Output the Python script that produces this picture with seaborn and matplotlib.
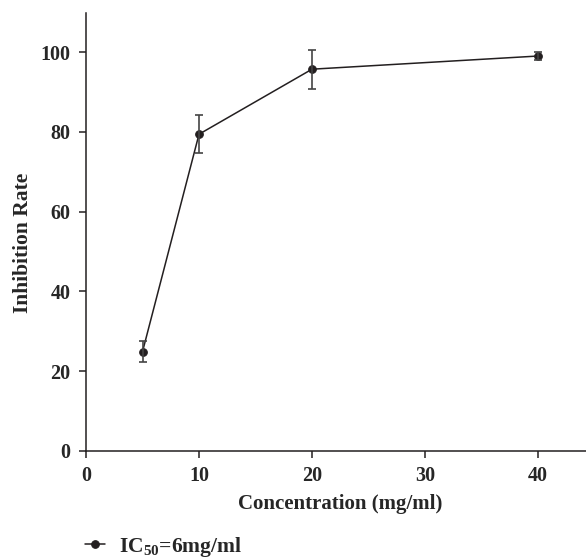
# inhibition rate vs concentration
import matplotlib
matplotlib.use("Agg")
import matplotlib.pyplot as plt
import seaborn as sns
import pandas as pd

conc = [5, 10, 20, 40]
rate = [24.9, 79.4, 95.7, 99.0]
err = [2.6, 4.7, 4.9, 0.9]

sns.set_style("ticks")
plt.rcParams['font.family'] = ['Liberation Serif', 'DejaVu Serif']
plt.rcParams['font.weight'] = 'bold'
plt.rcParams['mathtext.fontset'] = 'custom'
plt.rcParams['mathtext.rm'] = 'Liberation Serif:bold'
plt.rcParams['mathtext.bf'] = 'Liberation Serif:bold'

df = pd.DataFrame({'Concentration': conc, 'Rate': rate})

fig = plt.figure(figsize=(5.86, 5.58), dpi=100)
ax = fig.add_axes([0.1468, 0.1918, 0.8532, 0.785])

col = '#231f20'
sns.lineplot(data=df, x='Concentration', y='Rate', marker='o', color=col,
             markersize=5.5, linewidth=1.1, markeredgecolor=col, ax=ax,
             label=r'IC$_{50}$=6mg/ml', legend=False)
# error bars
ax.errorbar(conc, rate, yerr=err, fmt='none', ecolor='#444444',
            elinewidth=1.2, capsize=3, capthick=1.2)

ax.set_xlim(0, 44.25)
ax.set_ylim(0, 109.8)
ax.set_xticks([0, 10, 20, 30, 40])
ax.set_yticks([0, 20, 40, 60, 80, 100])
ax.tick_params(labelsize=14.5, length=5, width=1.1, color=col, pad=6)
for lbl in ax.get_xticklabels() + ax.get_yticklabels():
    lbl.set_fontweight('bold')
ax.set_xlabel('Concentration (mg/ml)', fontsize=15, fontweight='bold')
ax.set_ylabel('Inhibition Rate', fontsize=15.5, fontweight='bold')
ax.xaxis.set_label_coords(0.509, -0.098)
ax.yaxis.set_label_coords(-0.106, 0.475)
sns.despine(ax=ax)
for s in ['left', 'bottom']:
    ax.spines[s].set_linewidth(1.1)
    ax.spines[s].set_color(col)

h, l = ax.get_legend_handles_labels()
fig.legend(h, l, loc='center left', bbox_to_anchor=(0.145, 0.02), frameon=False,
           handlelength=0.95, handletextpad=0.65, borderpad=0, borderaxespad=0,
           prop={'weight': 'bold', 'size': 15.5})

fig.savefig('out.png', dpi=100)
